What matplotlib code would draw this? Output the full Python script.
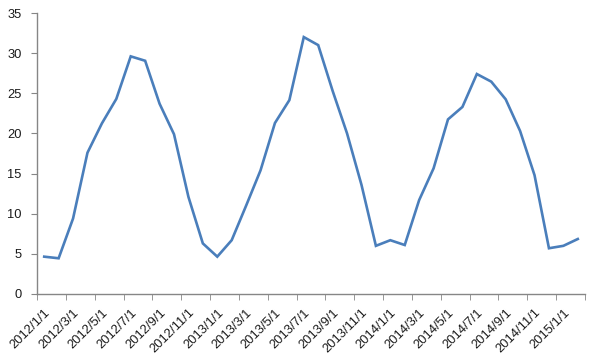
import matplotlib
matplotlib.use("Agg")
import matplotlib.pyplot as plt
import numpy as np

categories = []
for y in range(2012, 2016):
    for m in range(1, 13):
        categories.append(f"{y}/{m}/1")
categories = categories[:38]

values = [4.65, 4.45, 9.4, 17.6, 21.25, 24.3, 29.6, 29.05, 23.7, 19.9, 12.1, 6.3,
          4.65, 6.7, 11.0, 15.4, 21.3, 24.15, 32.0, 31.0, 25.3, 20.0, 13.6, 6.0,
          6.7, 6.1, 11.7, 15.65, 21.75, 23.3, 27.4, 26.45, 24.25, 20.3, 14.8, 5.7,
          6.0, 6.85]

yticks = [0, 5, 10, 15, 20, 25, 30, 35]

plt.rcParams['font.family'] = ['Liberation Sans', 'DejaVu Sans']

fig = plt.figure(figsize=(6.0, 3.58), dpi=100)
ax = fig.add_axes([37/600, 64/358, 548/600, 281/358])

x = np.arange(len(values))
ax.plot(x, values, color='#4a7ebb', linewidth=1.9, solid_joinstyle='miter')

ax.set_xlim(-0.5, len(values) - 0.5)
ax.set_ylim(0, 35)
ax.set_yticks(yticks)
ax.set_yticklabels([str(t) for t in yticks])

ax.set_xticks(x[::2])
ax.set_xticklabels(categories[::2], rotation=45, ha='right', va='top',
                   rotation_mode='anchor')
ax.set_xticks(np.arange(-0.5, len(values), 2), minor=True)
ax.tick_params(axis='x', which='major', length=0, pad=9, labelsize=9.3, colors='#1a1a1a')
ax.tick_params(axis='x', which='minor', length=4, color='#868686', direction='out')
ax.tick_params(axis='y', which='major', length=4, color='#868686', direction='out',
               labelsize=9.3, pad=7, labelcolor='#1a1a1a')

for s in ['top', 'right']:
    ax.spines[s].set_visible(False)
for s in ['left', 'bottom']:
    ax.spines[s].set_color('#868686')
    ax.spines[s].set_linewidth(1.0)

fig.savefig('out.png', dpi=100)
